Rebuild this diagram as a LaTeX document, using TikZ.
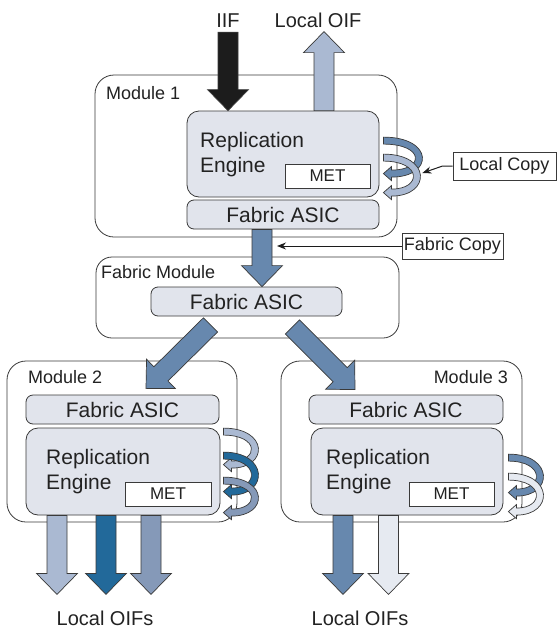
\documentclass[tikz,border=0pt]{standalone}
\usepackage{fontspec}
\setmainfont{Liberation Sans}
\usepackage{xcolor}
\definecolor{panelGray}{HTML}{E1E4EC}
\definecolor{lineGray}{HTML}{3A3A3A}
\definecolor{inkText}{HTML}{222222}
\definecolor{arrowBlack}{HTML}{1C1C1C}
\definecolor{arrowLight}{HTML}{AAB9D2}
\definecolor{arrowMid}{HTML}{6788AE}
\definecolor{arrowTeal}{HTML}{22699A}
\definecolor{arrowSlate}{HTML}{8599B8}
\definecolor{arrowPale}{HTML}{E6EAF1}
\usepackage{tikz}
\usetikzlibrary{
    arrows.meta,
    calc
}
\newcommand\fontEngine{\fontsize{21}{25}\selectfont}
\newcommand\fontTag{\fontsize{18}{21}\selectfont}
\newcommand\fontMet{\fontsize{17}{20}\selectfont}
\newcommand\fontTop{\fontsize{20}{24}\selectfont}
\tikzset{
    % Outer module frames
    module/.style={
        draw=lineGray,
        line width=0.8pt,
        rounded corners=19pt,
        fill=white,
        inner sep=0pt,
    },
    % Grey inner blocks (ASIC)
    block/.style={
        draw=lineGray,
        line width=0.8pt,
        fill=panelGray,
        rounded corners=7pt,
        inner sep=0pt,
        text=inkText,
        font=\fontEngine,
    },
    % Replication engine body
    engine/.style={
        block,
        rounded corners=12pt,
    },
    engine text/.style={
        inner sep=0pt,
        align=left,
        text=inkText,
        font=\fontEngine,
    },
    % MET table
    met/.style={
        draw=lineGray,
        line width=0.8pt,
        fill=white,
        inner sep=0pt,
        text=inkText,
        font=\fontMet,
    },
    % Module names
    tag/.style={
        inner sep=0pt,
        text=inkText,
        font=\fontTag,
    },
    % Labels above and below the arrows
    toplabel/.style={
        inner sep=0pt,
        text=inkText,
        font=\fontTop,
    },
    % Boxed notes on the right
    callout/.style={
        draw=lineGray,
        line width=0.8pt,
        fill=white,
        inner sep=0pt,
        text=inkText,
        font=\fontTag,
    },
    % Outline of the wide arrows
    fat arrow/.style={
        draw=lineGray,
        line width=0.7pt,
        line join=miter,
    },
    loop arrow/.style={
        draw=lineGray,
        line width=0.7pt,
    },
    % Thin pointer from a note
    pointer/.style={
        -{Stealth[length=9pt, width=7pt]},
        line width=1pt,
        draw=arrowBlack,
    },
}
% wide arrow: colour, from, to
\newcommand\fatarrow[3]{%
    \filldraw[fat arrow, fill=#1] let \p1=#2, \p2=#3,
        \n1={atan2(\y2-\y1,\x2-\x1)},
        \p3=($(\p2)+({\n1+180}:21pt)$) in
        ($(\p1)+({\n1+90}:10pt)$) -- ($(\p3)+({\n1+90}:10pt)$)
        -- ($(\p3)+({\n1+90}:20.5pt)$) -- (\p2)
        -- ($(\p3)+({\n1-90}:20.5pt)$) -- ($(\p3)+({\n1-90}:10pt)$)
        -- ($(\p1)+({\n1-90}:10pt)$) -- cycle;
}
% copy loop: colour, start, head tip, reach
\newcommand\loopcopy[4]{%
    \filldraw[loop arrow, fill=#1] let \p1=#2, \p2=#3 in
        (\x1,\y1+3.5pt)
        .. controls ({\x1+(1.333*#4-1.3)*1pt},\y1+3.5pt) and ({\x1+(1.333*#4-1.3)*1pt},\y2-3.5pt) .. (\x2+8pt,\y2-3.5pt)
        -- (\x2+8pt,\y2-7pt) -- (\p2) -- (\x2+8pt,\y2+7pt) -- (\x2+8pt,\y2+3.5pt)
        .. controls ({\x1+(1.333*#4-10.7)*1pt},\y2+3.5pt) and ({\x1+(1.333*#4-10.7)*1pt},\y1-3.5pt) .. (\x1,\y1-3.5pt)
        -- cycle;
}

\begin{document}
\begin{tikzpicture}[x=1pt, y=-1pt]
    \useasboundingbox (0,0) rectangle (560,630);

    % Module 1
    \node (mod1) [module, minimum width=302pt, minimum height=162pt] at (246,156) {};
    \node (mod1name) [tag, anchor=west] at (106,93) {Module 1};
    \node (re1) [engine, minimum width=192pt, minimum height=86pt] at (283,154) {};
    \node (re1text) [engine text, anchor=north west] at (200,132) {Replication\\Engine};
    \node (met1) [met, minimum width=85pt, minimum height=24pt] at (327.5,176) {MET};
    \node (asic1) [block, minimum width=192pt, minimum height=29pt] at (283,214.5) {Fabric ASIC};

    % Fabric module
    \node (fab) [module, rounded corners=16pt, minimum width=303pt, minimum height=81pt] at (247.5,297.5) {};
    \node (fabname) [tag, anchor=west] at (101,272) {Fabric Module};
    \node (asicf) [block, minimum width=191pt, minimum height=29pt] at (246.5,301.5) {Fabric ASIC};

    % Module 2
    \node (mod2) [module, minimum width=230pt, minimum height=161pt] at (122,441.5) {};
    \node (mod2name) [tag, anchor=west] at (28,377) {Module 2};
    \node (asic2) [block, minimum width=193pt, minimum height=29pt] at (122.5,409.5) {Fabric ASIC};
    \node (re2) [engine, minimum width=194pt, minimum height=87pt] at (123,471.5) {};
    \node (re2text) [engine text, anchor=north west] at (46,449) {Replication\\Engine};
    \node (met2) [met, minimum width=86pt, minimum height=24pt] at (168,494) {MET};

    % Module 3
    \node (mod3) [module, minimum width=241pt, minimum height=161pt] at (401.5,441.5) {};
    \node (mod3name) [tag, anchor=east] at (508,377) {Module 3};
    \node (asic3) [block, minimum width=194pt, minimum height=29pt] at (406,409.5) {Fabric ASIC};
    \node (re3) [engine, minimum width=192pt, minimum height=87pt] at (407,471.5) {};
    \node (re3text) [engine text, anchor=north west] at (326,449) {Replication\\Engine};
    \node (met3) [met, minimum width=85pt, minimum height=24pt] at (451.5,494) {MET};

    % Labels outside the modules
    \node (iif) [toplabel, anchor=base] at (228,27) {IIF};
    \node (locoif) [toplabel, anchor=base] at (318,27) {Local OIF};
    \node (oifs2) [toplabel, anchor=base] at (105,625) {Local OIFs};
    \node (oifs3) [toplabel, anchor=base] at (360,625) {Local OIFs};
    \coordinate (fabricx) at (262,0);

    % Wide arrows
    \fatarrow{arrowBlack}{($(iif.south)+(0,5)$)}{(iif |- re1.north)}
    \fatarrow{arrowLight}{($(re1.north)+(41,0)$)}{($(re1.north)+(41,-79)$)}
    \fatarrow{arrowMid}{(asic1.south -| fabricx)}{(asicf.north -| fabricx)}
    \fatarrow{arrowMid}{($(asicf.south)+(-36,8.5)$)}{($(asic2.north)+(23.5,-6)$)}
    \fatarrow{arrowMid}{($(asicf.south)+(46,10.5)$)}{($(asic3.north)+(-51,-5)$)}
    \fatarrow{arrowLight}{($(re2.south)+(-66,0)$)}{($(re2.south)+(-66,79)$)}
    \fatarrow{arrowTeal}{($(re2.south)+(-17,0)$)}{($(re2.south)+(-17,79)$)}
    \fatarrow{arrowSlate}{($(re2.south)+(28,0)$)}{($(re2.south)+(28,79)$)}
    \fatarrow{arrowMid}{($(re3.south)+(-64,0)$)}{($(re3.south)+(-64,79)$)}
    \fatarrow{arrowPale}{($(re3.south)+(-18.5,0)$)}{($(re3.south)+(-18.5,79)$)}

    % Local copy loops
    \loopcopy{arrowMid}{($(re1.north east)+(4,30)$)}{($(re1.north east)+(4,63)$)}{39}
    \loopcopy{arrowLight}{($(re1.north east)+(4,47)$)}{($(re1.north east)+(4,82)$)}{37}
    \loopcopy{arrowLight}{($(re2.north east)+(3,4)$)}{($(re2.north east)+(3,37)$)}{35}
    \loopcopy{arrowTeal}{($(re2.north east)+(3,28)$)}{($(re2.north east)+(3,64)$)}{35}
    \loopcopy{arrowSlate}{($(re2.north east)+(3,53)$)}{($(re2.north east)+(3,85)$)}{35}
    \loopcopy{arrowMid}{($(re3.north east)+(5,30)$)}{($(re3.north east)+(5,65)$)}{35}
    \loopcopy{arrowPale}{($(re3.north east)+(5,49)$)}{($(re3.north east)+(5,84)$)}{35}

    % Notes
    \node (lcopy) [callout, minimum width=103pt, minimum height=28pt] at (504.5,166) {Local Copy};
    \draw [pointer] (lcopy.west) -- ++(-10,0) -- ($(re1.east)+(43,19)$);
    \node (fcopy) [callout, minimum width=101pt, minimum height=26pt] at (452.5,246) {Fabric Copy};
    \draw [pointer] (fcopy.west) -- ($(fcopy.west -| fabricx)+(15,0)$);
\end{tikzpicture}
\end{document}
